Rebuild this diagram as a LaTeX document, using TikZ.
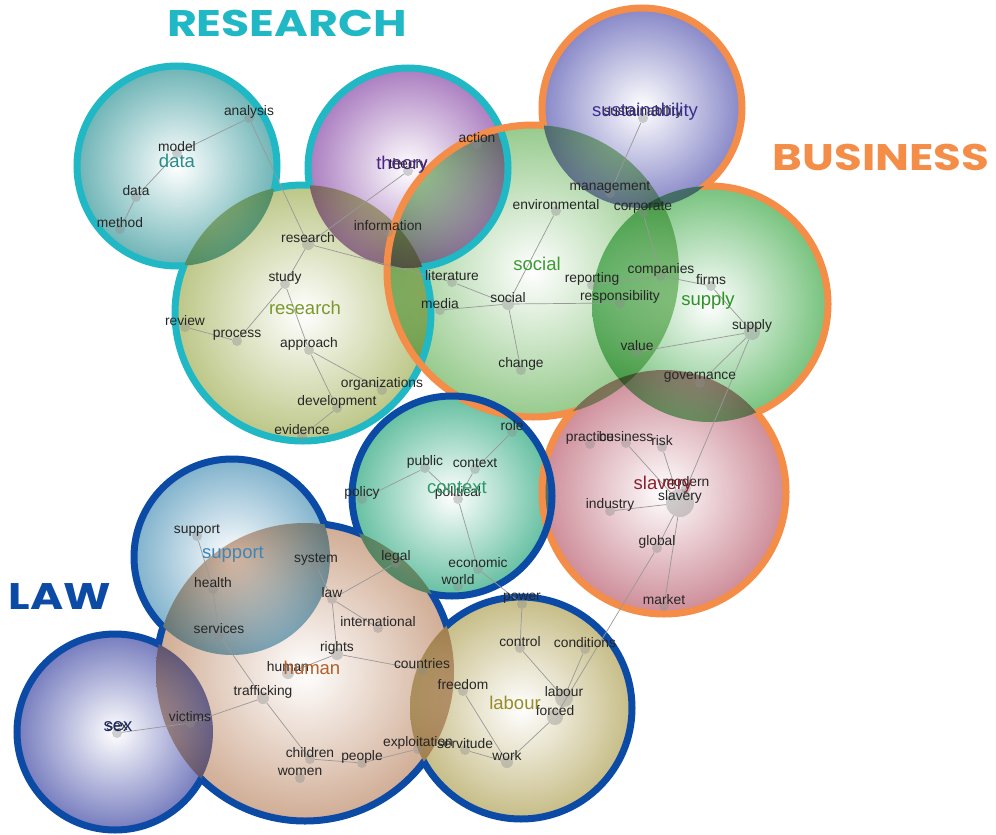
\documentclass[tikz,border=0pt]{standalone}
\usepackage{fontspec}
\setmainfont{Liberation Sans}
\newfontfamily\titlefont{Poppins}
\usepackage{graphicx}
\usepackage{tikz}

% ring colours
\definecolor{rcyan}{RGB}{32,184,196}
\definecolor{rorange}{RGB}{243,141,72}
\definecolor{rblue}{RGB}{12,75,165}
% theme fills
\definecolor{fdata}{RGB}{110,180,182}
\definecolor{fresearch}{RGB}{188,198,134}
\definecolor{ftheory}{RGB}{170,125,192}
\definecolor{fsustainability}{RGB}{135,135,200}
\definecolor{fsocial}{RGB}{150,202,140}
\definecolor{fsupply}{RGB}{118,194,125}
\definecolor{fslavery}{RGB}{205,140,152}
\definecolor{fcontext}{RGB}{100,191,160}
\definecolor{fsupport}{RGB}{128,178,204}
\definecolor{fhuman}{RGB}{208,172,148}
\definecolor{fsex}{RGB}{118,124,190}
\definecolor{flabour}{RGB}{198,188,134}
% theme label colours
\definecolor{tdata}{RGB}{42,140,138}
\definecolor{tresearch}{RGB}{122,152,45}
\definecolor{ttheory}{RGB}{74,37,128}
\definecolor{tsustainability}{RGB}{59,45,140}
\definecolor{tsocial}{RGB}{61,154,53}
\definecolor{tsupply}{RGB}{45,146,40}
\definecolor{tslavery}{RGB}{142,31,46}
\definecolor{tcontext}{RGB}{40,155,105}
\definecolor{tsupport}{RGB}{62,134,184}
\definecolor{thuman}{RGB}{180,96,42}
\definecolor{tsex}{RGB}{31,42,107}
\definecolor{tlabour}{RGB}{150,140,40}

\begin{document}
\begin{tikzpicture}[x=1pt, y=-1pt]
\tikzstyle{dot}=[circle, fill=black!45, fill opacity=0.4, inner sep=0pt, minimum size=10pt]
\tikzstyle{word}=[font=\fontsize{13.8}{14}\selectfont, text=black!85, inner sep=0pt, yshift=6pt]
\tikzstyle{theme}=[font=\fontsize{18.5}{19}\selectfont, inner sep=0pt]
\tikzstyle{title}=[font=\titlefont\bfseries\fontsize{37}{37}\selectfont, inner sep=0pt]
\tikzstyle{ring}=[line width=7pt]
\tikzstyle{link}=[draw=black!40, line width=0.7pt]

	\fill[white] (0,0) rectangle (996,835);
	\useasboundingbox (0,0) rectangle (996,835);
	\coordinate (far-a) at (-20,-20);
	\coordinate (far-b) at (1016,855);

	\coordinate (t-data) at (177,166);
	\coordinate (t-research) at (303,313);
	\coordinate (t-theory) at (408,168);
	\coordinate (t-sustainability) at (642,108);
	\coordinate (t-social) at (533,271);
	\coordinate (t-supply) at (710,304);
	\coordinate (t-slavery) at (664,492);
	\coordinate (t-context) at (452,496);
	\coordinate (t-support) at (232,557);
	\coordinate (t-human) at (305,672);
	\coordinate (t-sex) at (115,732);
	\coordinate (t-labour) at (521,708);

	% shaded themes
	\begin{scope}[blend mode=multiply]
	\shade[inner color=white, outer color=fdata] (t-data) circle[radius=100pt];
	\shade[inner color=white, outer color=fresearch] (t-research) circle[radius=128pt];
	\shade[inner color=white, outer color=ftheory] (t-theory) circle[radius=100pt];
	\shade[inner color=white, outer color=fsustainability] (t-sustainability) circle[radius=100pt];
	\shade[inner color=white, outer color=fsocial] (t-social) circle[radius=146pt];
	\shade[inner color=white, outer color=fsupply] (t-supply) circle[radius=118pt];
	\shade[inner color=white, outer color=fslavery] (t-slavery) circle[radius=122pt];
	\shade[inner color=white, outer color=fcontext] (t-context) circle[radius=100pt];
	\shade[inner color=white, outer color=fsupport] (t-support) circle[radius=98pt];
	\shade[inner color=white, outer color=fhuman] (t-human) circle[radius=149pt];
	\shade[inner color=white, outer color=fsex] (t-sex) circle[radius=98pt];
	\shade[inner color=white, outer color=flabour] (t-labour) circle[radius=111pt];
	\end{scope}

	% outer rings of each group
	\begin{scope}[even odd rule]
	\clip (far-a) rectangle (far-b) (t-research) circle[radius=128pt];
	\draw[ring, rcyan] (t-data) circle[radius=100pt] (t-theory) circle[radius=100pt];
	\end{scope}
	\begin{scope}[even odd rule]
	\clip (far-a) rectangle (far-b) (t-data) circle[radius=100pt] (t-theory) circle[radius=100pt];
	\draw[ring, rcyan] (t-research) circle[radius=128pt];
	\end{scope}

	\begin{scope}[even odd rule]
	\clip (far-a) rectangle (far-b) (t-social) circle[radius=146pt];
	\clip (far-a) rectangle (far-b) (t-supply) circle[radius=118pt];
	\draw[ring, rorange] (t-sustainability) circle[radius=100pt] (t-slavery) circle[radius=122pt];
	\end{scope}
	\begin{scope}[even odd rule]
	\clip (far-a) rectangle (far-b) (t-sustainability) circle[radius=100pt];
	\clip (far-a) rectangle (far-b) (t-slavery) circle[radius=122pt];
		\begin{scope}
		\clip (far-a) rectangle (far-b) (t-supply) circle[radius=118pt];
		\draw[ring, rorange] (t-social) circle[radius=146pt];
		\end{scope}
		\begin{scope}
		\clip (far-a) rectangle (far-b) (t-social) circle[radius=146pt];
		\draw[ring, rorange] (t-supply) circle[radius=118pt];
		\end{scope}
	\end{scope}

	\begin{scope}[even odd rule]
	\clip (far-a) rectangle (far-b) (t-human) circle[radius=149pt];
	\draw[ring, rblue] (t-support) circle[radius=98pt] (t-sex) circle[radius=98pt]
		(t-context) circle[radius=100pt] (t-labour) circle[radius=111pt];
	\end{scope}
	\begin{scope}[even odd rule]
	\clip (far-a) rectangle (far-b) (t-support) circle[radius=98pt] (t-sex) circle[radius=98pt]
		(t-context) circle[radius=100pt] (t-labour) circle[radius=111pt];
	\draw[ring, rblue] (t-human) circle[radius=149pt];
	\end{scope}

	% concepts
	\node[dot] (analysis) at (249,118) {};
	\node[dot] (model) at (177,153) {};
	\node[dot] (data) at (136,197) {};
	\node[dot] (method) at (120,229) {};
	\node[dot, minimum size=12pt] (research) at (308,244) {};
	\node[dot] (information) at (388,232) {};
	\node[dot] (theory) at (408,171) {};
	\node[dot] (action) at (477,144) {};
	\node[dot] (study) at (285,284) {};
	\node[dot] (review) at (185,327) {};
	\node[dot] (process) at (237,341) {};
	\node[dot] (approach) at (309,350) {};
	\node[dot] (organizations) at (382,390) {};
	\node[dot] (development) at (337,408) {};
	\node[dot] (evidence) at (302,436) {};

	\node[dot] (sustainability) at (643,118) {};
	\node[dot] (management) at (610,193) {};
	\node[dot] (environmental) at (556,211) {};
	\node[dot] (corporate) at (643,213) {};
	\node[dot] (literature) at (452,282) {};
	\node[dot] (media) at (440,310) {};
	\node[dot, minimum size=12pt] (social) at (508,304) {};
	\node[dot] (reporting) at (592,285) {};
	\node[dot] (companies) at (661,276) {};
	\node[dot] (firms) at (711,286) {};
	\node[dot] (responsibility) at (620,303) {};
	\node[dot, minimum size=16pt] (supply) at (752,332) {};
	\node[dot] (value) at (637,352) {};
	\node[dot] (change) at (521,370) {};
	\node[dot] (governance) at (700,383) {};

	\node[dot] (practice) at (590,444) {};
	\node[dot] (business) at (626,443) {};
	\node[dot] (risk) at (662,447) {};
	\node[dot] (modern) at (686,488) {};
	\node[dot, minimum size=28pt] (slavery) at (680,503) {};
	\node[dot] (industry) at (610,511) {};
	\node[dot] (global) at (657,548) {};
	\node[dot] (market) at (664,606) {};

	\node[dot] (role) at (512,432) {};
	\node[dot] (public) at (425,468) {};
	\node[dot] (context) at (475,469) {};
	\node[dot] (policy) at (362,499) {};
	\node[dot] (political) at (458,499) {};
	\node[dot] (economic) at (478,569) {};
	\node[dot] (world) at (458,586) {};

	\node[dot] (support) at (197,536) {};
	\node[dot] (system) at (316,565) {};
	\node[dot] (legal) at (396,563) {};
	\node[dot] (health) at (213,589) {};
	\node[dot] (law) at (332,599) {};
	\node[dot] (international) at (378,628) {};
	\node[dot] (services) at (219,635) {};
	\node[dot, minimum size=12pt] (rights) at (337,654) {};
	\node[dot] (countries) at (422,670) {};
	\node[dot, minimum size=12pt] (human) at (288,673) {};
	\node[dot, minimum size=12pt] (trafficking) at (263,698) {};
	\node[dot] (victims) at (190,723) {};
	\node[dot] (sex) at (117,733) {};
	\node[dot] (exploitation) at (418,749) {};
	\node[dot] (children) at (310,759) {};
	\node[dot] (people) at (362,763) {};
	\node[dot] (women) at (300,778) {};

	\node[dot] (power) at (522,604) {};
	\node[dot] (control) at (520,648) {};
	\node[dot] (conditions) at (585,649) {};
	\node[dot] (freedom) at (463,691) {};
	\node[dot, minimum size=18pt] (labour) at (564,698) {};
	\node[dot, minimum size=16pt] (forced) at (555,717) {};
	\node[dot] (servitude) at (465,750) {};
	\node[dot, minimum size=12pt] (work) at (507,762) {};

	\path[link]
	 (analysis) edge (model)
	 (model) edge (data)
	 (data) edge (method)
	 (analysis) edge (research)
	 (theory) edge (research)
	 (research) edge (literature)
	 (research) edge (study)
	 (study) edge (process)
	 (process) edge (review)
	 (study) edge (approach)
	 (approach) edge (organizations)
	 (approach) edge (development)
	 (development) edge (evidence)
	 (sustainability) edge (management)
	 (corporate) edge (companies)
	 (environmental) edge (social)
	 (literature) edge (social)
	 (media) edge (social)
	 (social) edge (responsibility)
	 (social) edge (change)
	 (reporting) edge (companies)
	 (companies) edge (firms)
	 (firms) edge (supply)
	 (supply) edge (value)
	 (supply) edge (governance)
	 (supply) edge (slavery)
	 (business) edge (slavery)
	 (risk) edge (slavery)
	 (industry) edge (slavery)
	 (slavery) edge (global)
	 (slavery) edge (market)
	 (global) edge (forced)
	 (role) edge (context)
	 (context) edge (political)
	 (public) edge (policy)
	 (public) edge (political)
	 (political) edge (economic)
	 (economic) edge (power)
	 (support) edge (health)
	 (health) edge (services)
	 (services) edge (trafficking)
	 (trafficking) edge (children)
	 (system) edge (law)
	 (legal) edge (law)
	 (law) edge (international)
	 (law) edge (rights)
	 (rights) edge (countries)
	 (rights) edge (human)
	 (trafficking) edge (victims)
	 (victims) edge (sex)
	 (children) edge (people)
	 (people) edge (exploitation)
	 (power) edge (control)
	 (control) edge (labour)
	 (conditions) edge (labour)
	 (forced) edge (work)
	 (freedom) edge (work)
	 (servitude) edge (work);

	% concept words
	\node[word] (w-analysis) at (analysis) {analysis};
	\node[word] (w-model) at (model) {model};
	\node[word] (w-data) at (data) {data};
	\node[word] (w-method) at (method) {method};
	\node[word] (w-research) at (research) {research};
	\node[word] (w-information) at (information) {information};
	\node[word] (w-theory) at (theory) {theory};
	\node[word] (w-action) at (action) {action};
	\node[word] (w-study) at (study) {study};
	\node[word] (w-review) at (review) {review};
	\node[word] (w-process) at (process) {process};
	\node[word] (w-approach) at (approach) {approach};
	\node[word] (w-organizations) at (organizations) {organizations};
	\node[word] (w-development) at (development) {development};
	\node[word] (w-evidence) at (evidence) {evidence};
	\node[word] (w-sustainability) at (sustainability) {sustainability};
	\node[word] (w-management) at (management) {management};
	\node[word] (w-environmental) at (environmental) {environmental};
	\node[word] (w-corporate) at (corporate) {corporate};
	\node[word] (w-literature) at (literature) {literature};
	\node[word] (w-media) at (media) {media};
	\node[word] (w-social) at (social) {social};
	\node[word] (w-reporting) at (reporting) {reporting};
	\node[word] (w-companies) at (companies) {companies};
	\node[word] (w-firms) at (firms) {firms};
	\node[word] (w-responsibility) at (responsibility) {responsibility};
	\node[word] (w-supply) at (supply) {supply};
	\node[word] (w-value) at (value) {value};
	\node[word] (w-change) at (change) {change};
	\node[word] (w-governance) at (governance) {governance};
	\node[word] (w-practice) at (practice) {practice};
	\node[word] (w-business) at (business) {business};
	\node[word] (w-risk) at (risk) {risk};
	\node[word] (w-modern) at (modern) {modern};
	\node[word] (w-slavery) at (slavery) {slavery};
	\node[word] (w-industry) at (industry) {industry};
	\node[word] (w-global) at (global) {global};
	\node[word] (w-market) at (market) {market};
	\node[word] (w-role) at (role) {role};
	\node[word] (w-public) at (public) {public};
	\node[word] (w-context) at (context) {context};
	\node[word] (w-policy) at (policy) {policy};
	\node[word] (w-political) at (political) {political};
	\node[word] (w-economic) at (economic) {economic};
	\node[word] (w-world) at (world) {world};
	\node[word] (w-support) at (support) {support};
	\node[word] (w-system) at (system) {system};
	\node[word] (w-legal) at (legal) {legal};
	\node[word] (w-health) at (health) {health};
	\node[word] (w-law) at (law) {law};
	\node[word] (w-international) at (international) {international};
	\node[word] (w-services) at (services) {services};
	\node[word] (w-rights) at (rights) {rights};
	\node[word] (w-countries) at (countries) {countries};
	\node[word] (w-human) at (human) {human};
	\node[word] (w-trafficking) at (trafficking) {trafficking};
	\node[word] (w-victims) at (victims) {victims};
	\node[word] (w-sex) at (sex) {sex};
	\node[word] (w-exploitation) at (exploitation) {exploitation};
	\node[word] (w-children) at (children) {children};
	\node[word] (w-people) at (people) {people};
	\node[word] (w-women) at (women) {women};
	\node[word] (w-power) at (power) {power};
	\node[word] (w-control) at (control) {control};
	\node[word] (w-conditions) at (conditions) {conditions};
	\node[word] (w-freedom) at (freedom) {freedom};
	\node[word] (w-labour) at (labour) {labour};
	\node[word] (w-forced) at (forced) {forced};
	\node[word] (w-servitude) at (servitude) {servitude};
	\node[word] (w-work) at (work) {work};

	% theme names
	\node[theme, text=tdata] (l-data) at (177,161) {data};
	\node[theme, text=tresearch] (l-research) at (305,308) {research};
	\node[theme, text=ttheory] (l-theory) at (402,165) {theory};
	\node[theme, text=tsustainability] (l-sustainability) at (645,112) {sustainability};
	\node[theme, text=tsocial] (l-social) at (537,264) {social};
	\node[theme, text=tsupply] (l-supply) at (708,301) {supply};
	\node[theme, text=tslavery] (l-slavery) at (663,485) {slavery};
	\node[theme, text=tcontext] (l-context) at (457,488) {context};
	\node[theme, text=tsupport] (l-support) at (233,554) {support};
	\node[theme, text=thuman] (l-human) at (312,668) {human};
	\node[theme, text=tsex] (l-sex) at (118,727) {sex};
	\node[theme, text=tlabour] (l-labour) at (515,703) {labour};

	% group names
	\node[title, text=rcyan] (g-research) at (287,23) {\scalebox{1.24}[1]{RESEARCH}};
	\node[title, text=rorange] (g-business) at (881,157) {\scalebox{1.22}[1]{BUSINESS}};
	\node[title, text=rblue] (g-law) at (60,597) {\scalebox{1.22}[1]{LAW}};

\end{tikzpicture}
\end{document}
